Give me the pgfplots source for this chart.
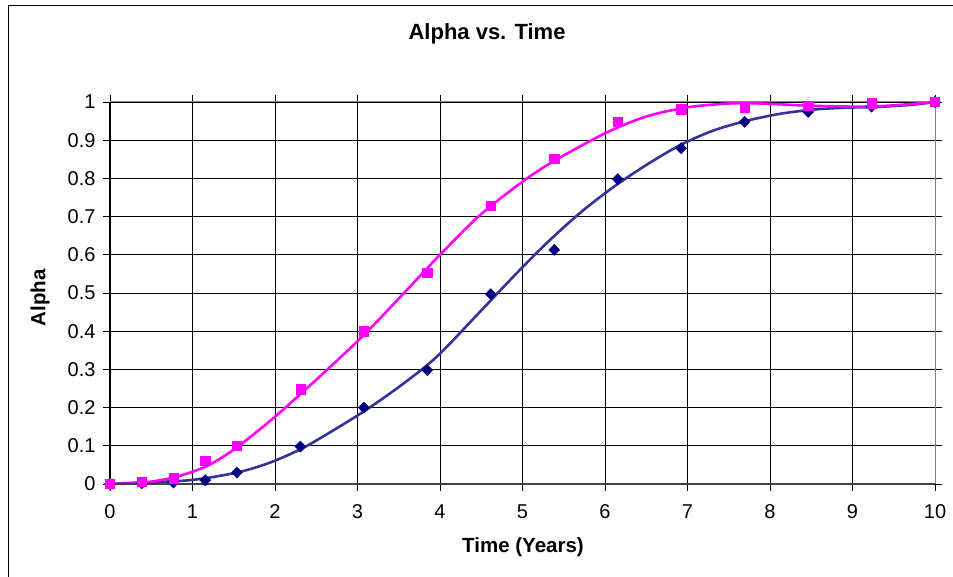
\documentclass[border=0pt]{standalone}
\usepackage{fontspec}
\setmainfont{Liberation Sans}
\usepackage{pgfplots}
\pgfplotsset{compat=1.18}
\definecolor{bline}{RGB}{51,51,153}
\definecolor{bmark}{RGB}{0,0,128}
\definecolor{pink}{RGB}{255,0,255}
\begin{document}
\begin{tikzpicture}[x=1pt,y=1pt]
\useasboundingbox (0,0) rectangle (953,577);
\draw[black,line width=1pt] (8,0) -- (8,571) -- (953,571);
\begin{axis}[
  at={(110pt,93pt)}, anchor=south west,
  scale only axis, width=825pt, height=382pt,
  xmin=0, xmax=10, ymin=0, ymax=1,
  xtick={0,1,...,10},
  ytick={0,0.1,0.2,0.3,0.4,0.5,0.6,0.7,0.8,0.9,1},
  yticklabels={0,0.1,0.2,0.3,0.4,0.5,0.6,0.7,0.8,0.9,1},
  /pgf/number format/assume math mode=true,
  tick label style={font=\fontsize{20}{22}\selectfont},
  yticklabel style={xshift=-4pt},
  xticklabel style={yshift=-10pt},
  tick align=outside, major tick length=7pt,
  tick style={black, line width=0.8pt},
  xmajorgrids, ymajorgrids,
  grid style={black, line width=0.9pt},
  axis line style={draw=none},
  title={\textbf{Alpha vs. Time}},
  title style={font=\fontsize{22}{24}\selectfont, at={(axis description cs:0.457,1.162)}, anchor=center},
  xlabel={\textbf{Time (Years)}},
  xlabel style={font=\fontsize{20.5}{22}\selectfont, at={(axis description cs:0.5006,-0.165)}, anchor=center},
  ylabel={\textbf{Alpha}},
  ylabel style={font=\fontsize{20.5}{22}\selectfont, at={(axis description cs:-0.0848,0.487)}, anchor=center, rotate=0},
  clip=false,
]
\addplot[bline, line width=2.6pt, smooth] coordinates {
(0,0) (0.36,0.004) (0.97,0.01) (1.54,0.03) (1.94,0.056) (2.30,0.09) (2.58,0.124)
(3.07,0.189) (3.52,0.257) (3.96,0.333) (4.49,0.452) (4.89,0.543) (5.29,0.63)
(5.70,0.71) (6.10,0.777) (6.50,0.835) (6.91,0.887) (7.31,0.925) (7.72,0.951)
(8.12,0.969) (8.52,0.980) (8.9,0.985) (9.3,0.987) (9.73,0.993) (10,1.0)};
\addplot[pink, line width=2.6pt, smooth] coordinates {
(0,0) (0.385,0.003) (0.77,0.017) (1.154,0.045) (1.5,0.09) (2.0,0.176)
(2.586,0.29) (3.077,0.39) (3.52,0.49) (3.846,0.565) (4.0,0.600) (4.485,0.704)
(5.01,0.793) (5.385,0.846) (6.0,0.918) (6.5,0.962) (7.0,0.986) (7.5,0.996) (7.9,0.996)
(8.52,0.990) (9.2,0.988) (9.73,0.995) (10,1.0)};
\addplot[only marks, mark=diamond*, mark size=5.6pt, bmark, mark options={draw=bmark, fill=bmark, xscale=1.3}] coordinates {
(0,0) (0.385,0.002) (0.769,0.004) (1.154,0.01) (1.538,0.03) (2.308,0.098)
(3.077,0.20) (3.846,0.298) (4.615,0.497) (5.385,0.613) (6.154,0.798)
(6.923,0.879) (7.692,0.948) (8.462,0.974) (9.231,0.988) (10,1.0)};
\addplot[only marks, mark=square*, mark size=4.6pt, pink, mark options={draw=pink, fill=pink}] coordinates {
(0,0) (0.385,0.006) (0.769,0.015) (1.154,0.06) (1.538,0.10) (2.308,0.248)
(3.077,0.40) (3.846,0.553) (4.615,0.729) (5.385,0.851) (6.154,0.949)
(6.923,0.981) (7.692,0.985) (8.462,0.990) (9.231,0.997) (10,1.0)};
\draw[gray, line width=1pt] (rel axis cs:0,1) -- (rel axis cs:1,1) -- (rel axis cs:1,0);
\draw[black!75, line width=1.8pt] (rel axis cs:0,0) -- (rel axis cs:1,0);
\draw[black, line width=1.2pt] (rel axis cs:0,0) -- (rel axis cs:0,1);
\end{axis}
\end{tikzpicture}
\end{document}
